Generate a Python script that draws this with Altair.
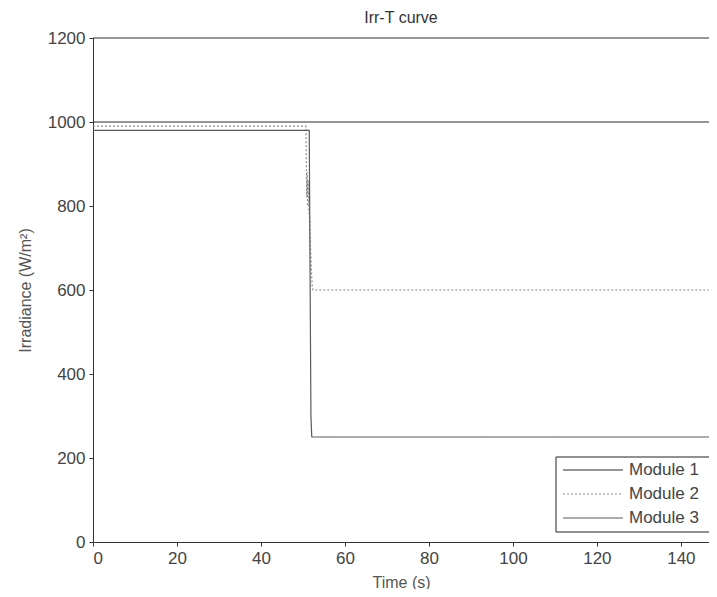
import altair as alt
import pandas as pd

# Data
m1_t = [0, 146.7]
m1_v = [1000, 1000]
m2_t = [0, 50.7, 50.8, 50.9, 51.0, 51.1, 51.25, 51.4, 51.6, 51.8, 52.0, 52.2, 52.4, 146.7]
m2_v = [990, 990, 905, 820, 880, 800, 860, 790, 770, 700, 650, 610, 600, 600]
m3_t = [0, 51.5, 51.6, 51.9, 52.1, 146.7]
m3_v = [980, 980, 800, 300, 250, 250]
series = ["Module 1", "Module 2", "Module 3"]
colors = ["#2a2a2a", "#8a8a8a", "#5a5a5a"]
dashes = [[1, 0], [2, 2], [1, 0]]
x_ticks = [0, 20, 40, 60, 80, 100, 120, 140]
y_ticks = [0, 200, 400, 600, 800, 1000, 1200]

rows = []
for name, ts, vs in zip(series, [m1_t, m2_t, m3_t], [m1_v, m2_v, m3_v]):
    for i, (t, v) in enumerate(zip(ts, vs)):
        rows.append({"Module": name, "t": t, "v": v, "i": i})
df = pd.DataFrame(rows)

FONT = "Liberation Sans, Arial, sans-serif"
W, H = 616, 504

lines = alt.Chart(df).mark_line(strokeWidth=1.2, clip=True).encode(
    x=alt.X("t:Q", scale=alt.Scale(domain=[0, 146.7], nice=False, zero=False),
            axis=alt.Axis(title="Time (s)", values=x_ticks, format="d")),
    y=alt.Y("v:Q", scale=alt.Scale(domain=[0, 1200], nice=False),
            axis=alt.Axis(title="Irradiance (W/m²)", values=y_ticks, format="d")),
    color=alt.Color("Module:N", scale=alt.Scale(domain=series, range=colors), legend=None),
    strokeDash=alt.StrokeDash("Module:N", scale=alt.Scale(domain=series, range=dashes), legend=None),
    order="i:Q",
)

one = pd.DataFrame({"a": [0]})
frame_top = alt.Chart(one).mark_rule(color="#333", strokeWidth=1).encode(
    x=alt.value(0), x2=alt.value(W), y=alt.value(0))

# legend box
lx0, lx1, ly0, ly1 = 463, 623, 419, 494
box = alt.Chart(one).mark_rect(fill="white", stroke="#222", strokeWidth=1).encode(
    x=alt.value(lx0), x2=alt.value(lx1), y=alt.value(ly0), y2=alt.value(ly1))
layers = [lines, frame_top, box]
for k, name in enumerate(series):
    yy = 432 + 24 * k
    layers.append(alt.Chart(one).mark_rule(color=colors[k], strokeWidth=1.2, strokeDash=dashes[k]).encode(
        x=alt.value(470), x2=alt.value(530), y=alt.value(yy)))
    layers.append(alt.Chart(one).mark_text(align="left", baseline="middle", font=FONT, fontSize=17,
                                           color="#444").encode(
        x=alt.value(536), y=alt.value(yy), text=alt.value(name)))

chart = alt.layer(*layers).properties(
    width=W, height=H,
    title=alt.Title("Irr-T curve", fontSize=16, font=FONT, fontWeight="normal", color="#333", offset=3),
    autosize=alt.AutoSizeParams(type="none"),
    padding={"left": 85, "top": 30, "right": 0, "bottom": 47},
).configure_view(stroke=None).configure_axis(
    grid=False, domainColor="#333", tickColor="#333", tickSize=4,
    labelFont=FONT, labelFontSize=17, labelColor="#444",
    titleFont=FONT, titleFontSize=16, titleFontWeight="normal", titleColor="#555",
).configure_axisX(titlePadding=8, labelPadding=4).configure_axisY(titlePadding=14, labelPadding=4)

chart.save("out.html", embed_options={"renderer": "svg", "actions": False})
